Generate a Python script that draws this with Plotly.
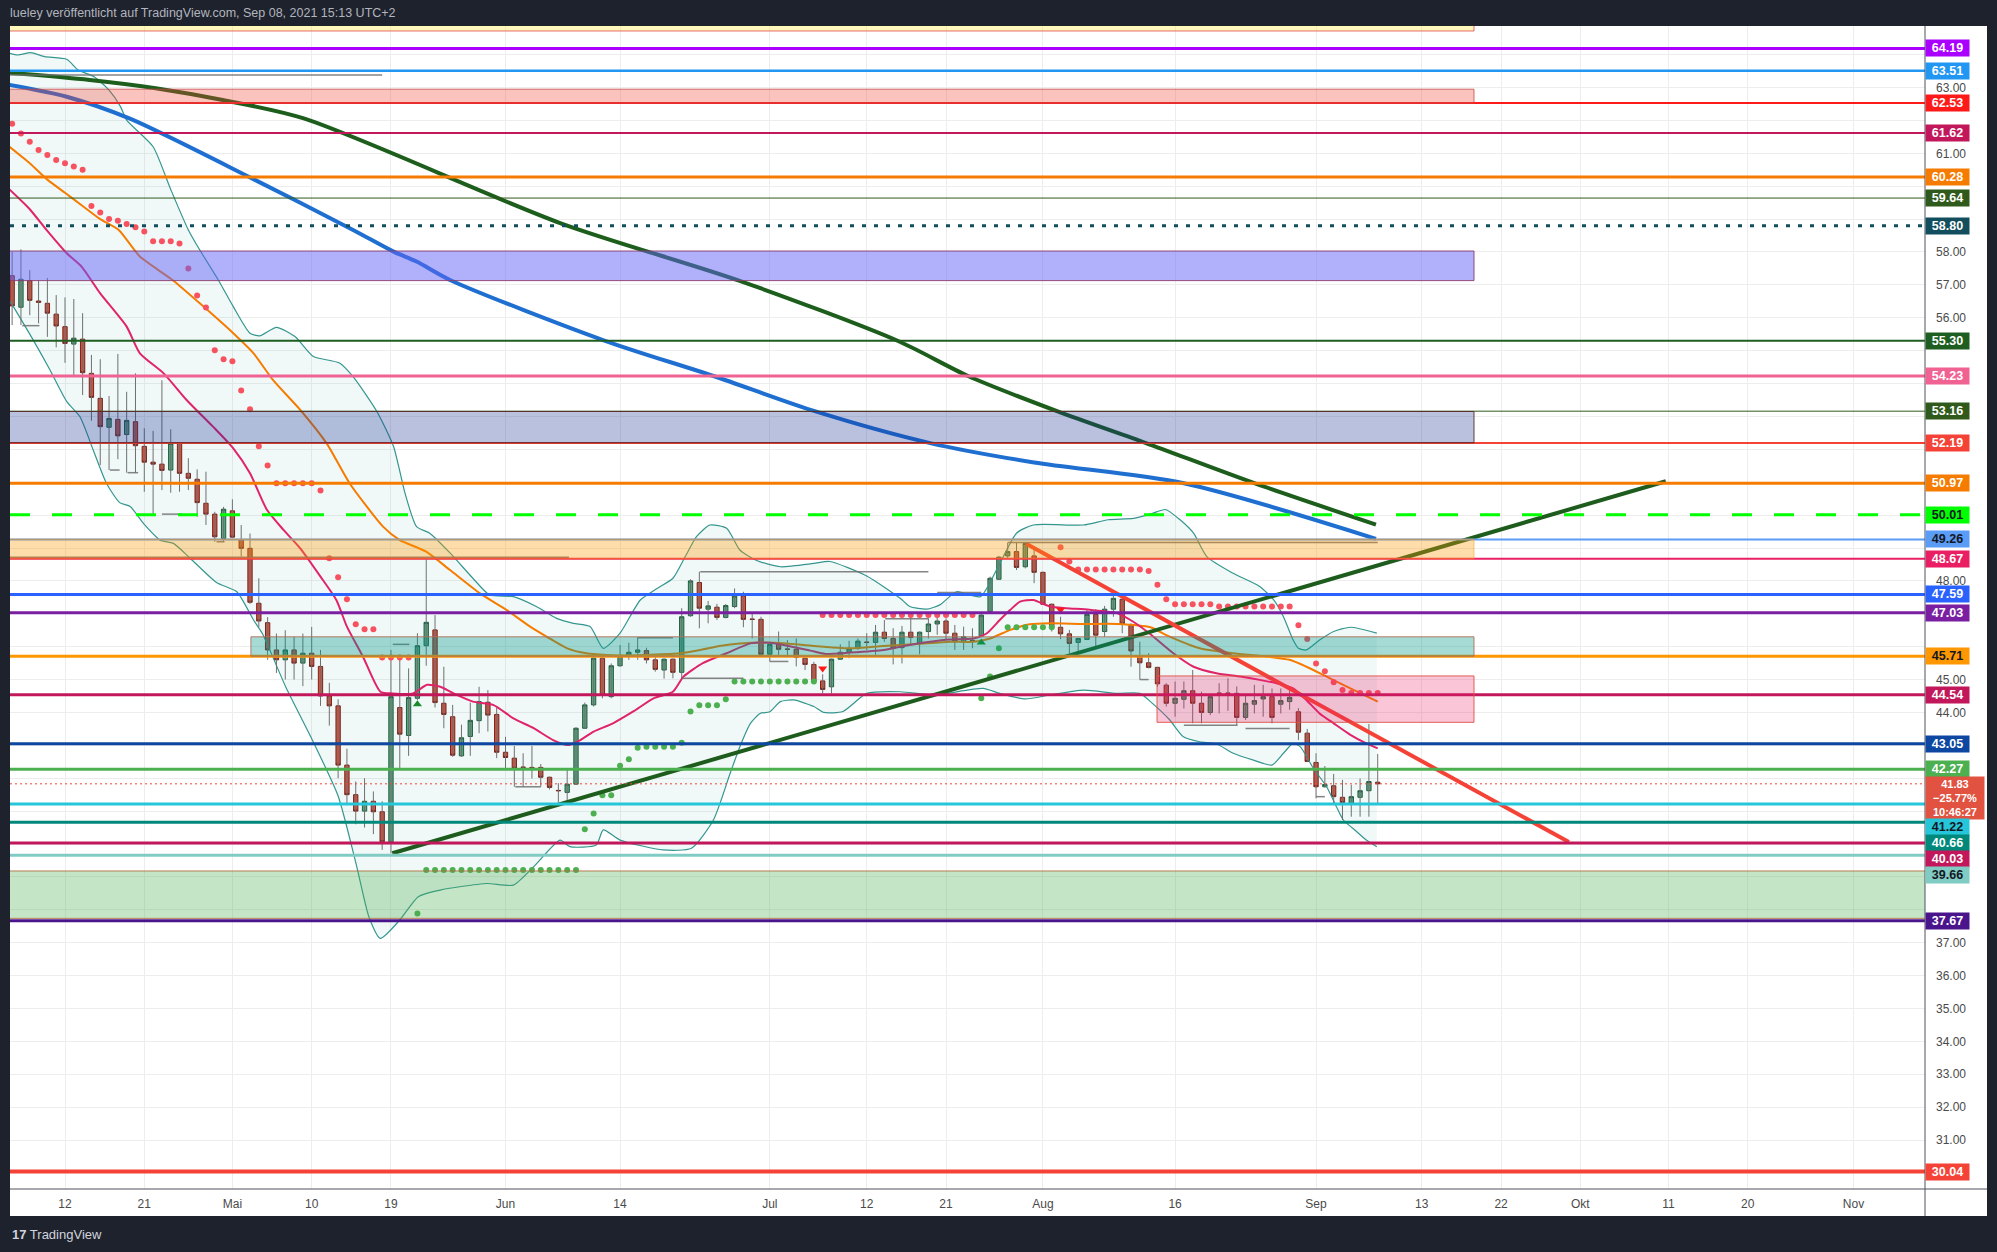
import pandas as pd
import plotly.graph_objects as go

# ---------------- data ----------------
BASE = pd.Timestamp("2021-04-12")          # day 0 of the day-offset arrays below
FIRST_CANDLE = "2021-04-06"

opens = [57.28,56.32,57.13,56.51,56.44,56.11,55.73,55.20,55.35,54.31,
         53.55,52.67,52.91,52.45,52.84,52.09,51.61,51.55,51.37,52.18,
         51.27,51.09,50.36,50.03,49.29,50.13,49.24,48.99,47.32,46.73,
         45.90,45.60,45.90,45.50,45.80,45.40,44.50,44.20,42.40,41.50,
         41.00,41.30,40.98,40.07,44.15,43.30,44.43,46.03,46.51,44.28,
         43.87,42.68,43.27,43.75,44.31,43.94,42.79,42.61,42.34,42.33,
         42.33,42.03,41.63,41.57,41.82,43.52,44.23,45.65,44.48,45.42,
         45.70,45.83,45.88,45.60,45.29,45.62,45.22,46.94,47.95,47.14,
         47.20,46.89,47.22,47.54,46.84,46.83,45.77,46.07,45.93,45.92,
         45.65,45.46,44.96,44.78,45.62,45.83,45.95,46.14,46.13,46.44,
         46.25,45.97,46.44,46.10,46.46,46.69,46.78,46.41,46.15,46.19,
         46.32,47.07,48.05,48.76,48.89,48.43,48.76,48.26,47.29,46.59,
         46.39,46.13,46.22,46.98,46.46,47.14,47.44,46.64,45.70,45.51,
         45.37,44.83,44.28,44.40,44.66,44.28,44.00,44.59,44.59,44.58,
         43.85,44.25,44.41,44.48,44.25,44.33,44.02,43.37,42.48,41.74,
         41.77,41.42,41.24,41.42,41.62,41.88]
highs = [58.01,58.08,57.45,57.13,57.21,56.69,56.62,56.57,56.14,54.87,
         54.74,53.62,54.90,53.75,54.31,52.64,52.56,54.10,52.61,52.20,
         51.73,51.39,51.32,50.10,50.25,50.48,49.70,49.44,48.08,46.90,
         46.40,46.50,46.30,46.40,46.60,45.90,44.90,44.40,42.90,41.90,
         42.00,41.60,41.30,45.90,45.65,45.34,46.41,48.66,46.96,45.39,
         44.23,43.63,44.30,44.78,44.68,44.15,43.26,42.98,42.76,42.98,
         42.43,42.05,41.85,42.25,43.55,44.30,45.70,45.75,45.49,46.05,
         46.12,46.28,45.97,45.70,45.64,45.64,47.17,48.05,48.28,47.39,
         47.30,47.30,47.77,47.67,47.00,46.91,46.09,46.46,46.20,46.25,
         45.67,45.54,45.16,45.64,46.07,46.18,46.25,46.41,46.66,46.81,
         46.56,46.63,46.86,46.46,46.86,46.99,46.86,46.66,46.61,46.56,
         47.01,48.13,48.76,49.16,49.16,49.16,49.02,48.28,47.31,46.91,
         46.51,46.27,47.12,47.14,47.24,47.62,47.54,46.71,46.15,45.80,
         45.39,44.89,44.94,44.94,45.29,44.63,44.50,44.89,45.04,44.79,
         44.53,44.84,44.84,44.73,44.73,44.79,44.13,43.50,42.76,42.37,
         42.13,41.95,41.80,41.99,43.65,42.74]
lows = [55.78,55.78,56.08,55.83,55.42,55.10,54.63,54.26,53.65,52.87,
        51.52,51.37,51.70,51.29,51.29,50.71,50.00,50.76,50.68,50.71,
        50.76,49.95,49.70,49.19,49.19,49.30,48.74,47.30,46.60,45.60,
        45.20,45.00,45.00,44.80,45.00,44.20,43.60,42.00,41.20,40.60,
        40.50,40.30,39.82,39.72,42.30,42.68,44.38,45.42,44.15,43.52,
        42.65,42.65,42.68,43.37,43.42,42.61,42.27,41.74,41.74,41.99,
        41.74,41.66,41.27,41.29,41.80,43.50,44.18,44.43,44.43,45.39,
        45.60,45.60,45.49,45.24,45.03,45.04,45.03,46.91,46.56,46.71,
        46.81,46.86,47.17,46.59,46.25,45.75,45.55,45.75,45.70,45.40,
        45.29,44.89,44.58,44.58,45.60,45.65,45.90,45.90,45.75,46.15,
        45.46,45.49,46.05,45.77,46.25,46.36,46.20,45.90,45.90,45.95,
        46.30,47.02,48.03,48.69,48.33,48.38,47.93,47.27,46.46,46.23,
        45.80,45.85,46.20,46.00,46.30,46.91,46.41,45.39,45.00,45.34,
        44.78,44.18,43.87,44.12,43.67,43.67,43.92,43.97,44.05,43.62,
        43.77,43.97,43.87,43.67,43.97,44.08,43.16,42.49,41.39,41.72,
        41.19,40.73,40.83,40.83,40.83,41.24]
closes = [56.36,57.17,56.53,56.47,56.14,55.75,55.22,55.38,54.33,53.58,
          52.69,52.94,52.41,52.88,52.11,51.61,51.55,51.36,52.18,51.27,
          51.12,50.38,50.03,49.34,50.18,49.33,48.99,47.35,46.78,45.90,
          45.60,45.90,45.50,45.80,45.40,44.50,44.20,42.40,41.50,41.00,
          41.30,40.98,40.07,44.48,43.34,44.45,46.03,46.74,44.30,43.94,
          42.70,43.23,43.76,44.33,43.92,42.79,42.63,42.30,42.33,42.32,
          42.03,41.72,41.62,41.82,43.52,44.23,45.65,44.53,45.42,45.70,
          45.83,45.90,45.60,45.31,45.62,45.22,46.91,48.00,47.17,47.24,
          46.89,47.25,47.54,46.83,46.83,45.77,46.07,45.92,45.92,45.67,
          45.46,44.94,44.70,45.62,45.83,45.95,46.17,46.13,46.44,46.25,
          45.95,46.44,46.28,46.44,46.69,46.78,46.41,46.15,46.30,46.18,
          46.96,48.08,48.72,48.89,48.41,49.14,48.26,47.29,46.59,46.39,
          46.10,46.25,46.98,46.35,47.14,47.47,46.69,45.87,45.51,45.37,
          44.87,44.28,44.43,44.66,44.28,44.00,44.48,44.58,44.58,43.85,
          44.28,44.36,44.48,43.85,44.36,44.46,43.40,42.51,41.74,41.81,
          41.44,41.26,41.44,41.62,41.90,41.83]

# indicator curves, x = day offset from BASE
bb_upper_days = [-6.3,-5.35,-3.9,-2.3,0.2,1.5,3.3,5.0,6.3,7.0,10.0,12.0,14.0,15.3,17.4,19.1,21.0,22.1,24.0,26.1,
                 28.2,30.1,31.2,32.7,35.4,37.3,38.6,39.9,41.4,43.7,46.3,48.2,50.9,53.5,55.8,57.7,59.6,61.1,63.0,65.3,
                 67.2,69.0,70.4,71.7,73.2,75.1,76.6,78.5,81.2,85.0,86.8,91.0,94.8,95.9,97.8,99.3,101.2,103.9,106.1,108.0,
                 109.9,115.6,118.4,121.3,123.4,124.9,126.6,128.1,129.6,132.6,135.6,137.2,138.3,139.4,140.0,140.9,142.4,144.0,145.9,148.9]
bb_upper_vals = [64.04,63.99,64.06,63.94,63.86,63.53,63.33,62.92,62.42,62.01,61.20,59.90,58.67,58.06,57.15,56.34,55.53,55.45,55.71,55.43,
                 54.82,54.70,54.62,54.21,53.15,52.08,50.66,49.65,49.45,48.85,48.08,47.57,47.52,47.22,46.86,46.71,46.61,45.95,46.41,47.42,
                 47.77,48.08,48.74,49.35,49.70,49.60,48.94,48.62,48.43,48.53,48.59,48.15,47.47,47.22,47.14,47.27,47.67,47.52,48.53,49.45,
                 49.70,49.70,49.86,49.90,50.05,50.17,49.85,49.45,48.74,48.23,47.83,47.42,46.91,46.20,45.95,45.90,46.20,46.46,46.59,46.41]
bb_lower_days = [-6.2,-3.6,-1.7,0.2,1.7,3.2,4.7,6.2,7.4,8.9,10.8,12.3,14.2,17.2,19.5,21.4,22.4,25.1,28.0,31.0,
                 33.1,34.5,35.8,38.0,40.1,42.6,44.8,47.9,50.9,53.2,56.2,57.3,60.3,61.1,63.0,67.9,71.1,73.6,75.5,76.6,
                 77.8,78.9,80.0,81.2,82.7,85.0,86.1,88.3,91.0,94.8,98.6,104.2,106.1,109.0,111.8,115.6,119.4,122.0,123.2,125.4,
                 126.9,128.8,130.7,132.6,134.9,137.0,138.3,139.4,140.2,141.7,143.2,144.3,145.1,146.6,147.7,148.9]
bb_lower_vals = [56.49,55.32,54.41,53.45,52.99,51.98,50.97,50.38,50.26,49.75,49.24,49.14,48.69,47.95,47.67,46.81,46.40,44.75,43.20,41.46,
                 39.33,37.78,37.13,37.69,38.40,38.60,38.70,38.80,38.75,39.31,40.12,39.92,39.97,40.43,40.12,39.82,39.87,40.73,42.15,42.96,
                 43.67,43.97,44.02,44.33,44.38,44.18,44.00,44.03,44.58,44.63,44.53,44.73,44.58,44.41,44.53,44.68,44.58,44.58,44.33,43.77,
                 43.27,43.11,43.04,42.76,42.55,42.40,42.76,43.06,42.96,42.30,41.74,41.14,40.73,40.38,40.12,39.92]
ema_fast_days = [-6.3,-4.0,-2.1,0.2,1.9,4.0,7.0,8.5,11.2,13.8,16.8,19.1,21.0,22.9,24.8,26.7,29.0,30.8,32.0,33.8,
                 35.8,37.2,39.5,41.1,42.6,44.1,46.3,48.6,50.9,53.2,55.4,57.1,58.5,60.0,62.2,64.5,66.8,69.0,70.2,72.4,
                 75.1,77.8,80.0,82.5,84.6,86.3,89.1,92.9,95.2,98.2,100.4,103.1,104.6,106.1,107.3,108.4,109.9,111.8,113.7,116.3,
                 119.4,121.3,123.1,125.8,128.1,130.7,133.4,135.6,137.5,139.4,140.9,142.4,144.0,145.9,147.7,149.0]
ema_fast_vals = [59.90,59.30,58.67,57.96,57.55,56.74,55.73,54.92,54.31,53.50,52.69,52.03,51.27,50.17,49.55,48.99,48.13,47.42,46.61,45.71,
                 44.63,44.58,44.58,44.84,44.78,44.58,44.33,44.23,43.82,43.52,43.16,43.01,43.16,43.42,43.67,44.03,44.43,44.63,45.09,45.50,
                 45.80,46.10,46.12,46.00,45.88,45.78,45.82,45.90,46.02,46.15,46.22,46.25,46.40,46.81,47.12,47.37,47.42,47.22,47.17,47.12,
                 47.02,46.75,46.40,45.80,45.39,45.19,45.09,44.99,44.89,44.73,44.38,43.97,43.67,43.32,43.06,42.91]
ema_mid_days = [-6.3,-4.0,-2.0,0.0,2.0,4.0,6.1,8.5,12.2,15.3,19.1,21.4,23.6,26.7,29.7,32.3,36.1,38.0,41.0,43.7,
                47.1,50.1,52.8,54.7,57.0,59.2,61.5,63.8,66.0,69.8,72.1,74.3,76.6,79.3,81.9,85.0,89.1,92.9,96.7,100.4,
                103.1,105.0,107.3,109.5,111.8,115.6,119.4,123.2,125.0,128.8,132.6,136.4,139.0,140.9,143.2,145.9,149.0]
ema_mid_vals = [61.20,60.70,60.20,59.80,59.40,59.00,58.67,57.86,57.15,56.44,55.53,54.92,54.11,53.20,52.18,50.97,49.65,49.24,48.89,48.33,
                47.62,47.12,46.61,46.30,45.95,45.80,45.75,45.73,45.75,45.80,45.90,46.02,46.10,46.13,46.10,46.02,45.95,46.02,46.08,46.15,
                46.15,46.25,46.51,46.68,46.71,46.69,46.69,46.59,46.35,45.95,45.80,45.70,45.60,45.39,45.09,44.73,44.33]
ma_blue_days = [-6.3,0.2,7.3,21.5,32.7,37.3,39.9,43.7,61.3,73.6,85.1,98.2,110.0,127.0,148.8]
ma_blue_vals = [63.08,62.72,62.06,60.20,58.67,58.01,57.71,57.15,55.30,54.23,53.16,52.19,51.60,50.97,49.28]
ma_green_days = [-6.3,2.8,10.3,17.9,27.1,56.2,76.5,94.5,102.5,112.6,122.7,135.0,148.8]
ma_green_vals = [63.45,63.23,62.98,62.62,62.06,58.88,57.13,55.30,54.23,53.16,52.19,50.97,49.71]

# parabolic SAR dots
sar_red_days = [-6,-5,-4,-3,-2,-1,0,1,2,3,4,5,6,7,8,9,10,11,12,13,14,15,16,17,18,19,20,21,22,23,24,25,26,27,28,29,
                30,31,32,33,34,35,36,37,38,39,
                86,87,88,89,90,91,92,93,94,95,96,97,98,99,100,101,102,103,
                113,114,115,116,117,118,119,120,121,122,123,124,125,126,127,128,129,130,131,132,133,134,135,136,137,138,139,
                140,141,142,143,144,145,146,147,148,149]
sar_red_vals = [61.90,61.60,61.35,61.10,60.95,60.80,60.70,60.60,60.50,59.40,59.20,59.00,58.95,58.85,58.75,58.62,58.33,58.33,58.33,58.26,
                57.50,56.68,56.31,55.01,54.74,54.68,53.79,53.22,52.09,51.51,50.97,50.97,50.97,50.97,50.97,50.75,
                48.69,48.11,47.44,46.68,46.53,46.53,45.67,45.67,45.67,45.67,
                46.96,46.96,46.96,46.96,46.96,46.96,46.96,46.96,46.96,46.96,46.96,46.96,46.96,46.96,46.96,46.96,46.96,46.96,
                49.02,48.59,48.35,48.35,48.35,48.35,48.35,48.35,48.35,48.35,48.30,47.88,47.44,47.29,47.29,47.29,47.29,47.29,
                47.22,47.22,47.22,47.22,47.22,47.22,47.22,47.22,47.22,
                46.65,46.23,45.49,45.25,44.92,44.68,44.59,44.59,44.59,44.59]
sar_green_days = [40,41,42,43,44,45,46,47,48,49,50,51,52,53,54,55,56,57,58,59,60,61,62,63,64,65,66,67,68,69,70,71,72,73,74,75,
                  76,77,78,79,80,81,82,83,84,85,104,105,106,107,108,109,110,111,112]
sar_green_vals = [37.89,39.21,39.21,39.21,39.21,39.21,39.21,39.21,39.21,39.21,39.21,39.21,39.21,39.21,39.21,39.21,39.21,39.21,39.21,
                  40.45,40.93,41.48,41.48,42.38,42.58,42.93,42.96,42.96,42.96,42.96,43.08,44.03,44.22,44.22,44.22,44.40,
                  44.94,44.94,44.94,44.94,44.94,44.94,44.94,44.94,44.94,44.94,44.43,45.09,45.95,46.59,46.59,46.59,46.59,46.59,46.59]
buy_sig_days = [40, 104]
buy_sig_vals = [44.25, 46.13]
sell_sig_days = [86, 113]
sell_sig_vals = [45.34, 47.12]

# drawn trend lines (start/end)
trend_up_days = [37.15, 181.7]
trend_up_vals = [39.72, 51.03]
trend_down_days = [109.1, 170.7]
trend_down_vals = [49.13, 40.06]

# horizontal price levels
level_prices = [64.19, 63.51, 62.53, 61.62, 60.28, 59.64, 58.80, 55.30, 54.23, 53.16, 52.19, 50.97, 50.01,
                49.26, 48.67, 47.59, 47.03, 45.71, 44.54, 43.05, 42.27, 41.22, 40.66, 40.03, 39.66, 37.67, 30.04]
level_colors = ["#aa00ff", "#2196f3", "#ff1a1a", "#c2185b", "#f57c00", "#2f5a1c", "#134e5e", "#1e5e20", "#f06292",
                "#2f5a1c", "#f44336", "#f57c00", "#00ff00", "#5b9cf6", "#e91e63", "#2962ff", "#7b1fa2", "#ff9800",
                "#c2185b", "#0d47a1", "#4caf50", "#26c6da", "#00897b", "#c2185b", "#80cbc4", "#4a148c", "#f44336"]
level_widths = [3, 2.5, 2, 2, 3, 1, 3, 2, 3, 1, 2, 3, 3, 2, 2, 3, 3, 3, 3, 3, 3, 3, 3, 3, 3, 3, 4]
level_dashes = ["solid"] * 6 + ["4px,8px"] + ["solid"] * 5 + ["20px,22px"] + ["solid"] * 14
level_text = ["#ffffff"] * 12 + ["#131722", "#131722"] + ["#ffffff"] * 3 + ["#131722"] + ["#ffffff"] * 3 + \
             ["#131722", "#ffffff", "#ffffff", "#131722", "#ffffff", "#ffffff"]
current_change = "\u221225.77%"
current_timer = "10:46:27"

# rectangles (zones): low, high, start day (None = from chart start), fill, border
zone_lows = [64.72, 62.53, 57.13, 52.20, 48.67, 45.71, 43.70, 37.74]
zone_highs = [65.50, 62.95, 58.03, 53.15, 49.27, 46.30, 45.11, 39.18]
zone_starts = [None, None, None, None, None, 21.1, 123.95, None]
zone_ends = [159.93, 159.93, 159.93, 159.93, 159.93, 159.93, 159.93, None]
zone_fills = ["rgba(255,235,59,0.35)", "rgba(244,67,54,0.32)", "rgba(98,100,245,0.50)", "rgba(24,50,150,0.30)",
              "rgba(255,152,0,0.33)", "rgba(0,150,136,0.35)", "rgba(233,30,99,0.26)", "rgba(76,175,80,0.32)"]
zone_borders = ["rgba(229,90,90,0.9)", "rgba(200,70,70,0.8)", "rgba(140,60,110,0.9)", "rgba(90,40,40,0.9)",
                "rgba(255,152,0,0.5)", "rgba(180,110,90,0.9)", "rgba(224,80,70,0.9)", "rgba(176,112,64,0.9)"]

# pivot marker lines: start day, end day, price
pivot_starts = [-6.3, -4.85, 5.1, 7.1, 11.0, 17.2, -6.3, 37.2, 51.1, 65.0, 70.1, 80.0, 72.1, 99.0, 93.1, 122.0, 107.0, 127.0, 134.0, 142.0]
pivot_ends = [36.0, -2.9, 6.2, 8.3, 13.3, 18.1, 57.2, 39.1, 54.0, 69.0, 77.0, 82.1, 98.0, 104.0, 98.0, 123.0, 149.0, 133.1, 139.0, 143.0]
pivot_prices = [63.38, 55.76, 51.37, 51.29, 50.03, 49.19, 48.72, 46.07, 41.74, 46.27, 45.04, 45.55, 48.28, 47.65, 46.85, 45.00, 49.17, 43.61, 43.51, 41.44]

tick_dates = ["2021-04-12", "2021-04-21", "2021-05-01", "2021-05-10", "2021-05-19", "2021-06-01", "2021-06-14",
              "2021-07-01", "2021-07-12", "2021-07-21", "2021-08-01", "2021-08-16", "2021-09-01", "2021-09-13",
              "2021-09-22", "2021-10-01", "2021-10-11", "2021-10-20", "2021-11-01"]
tick_text = ["12", "21", "Mai", "10", "19", "Jun", "14", "Jul", "12", "21", "Aug", "16", "Sep", "13", "22", "Okt",
             "11", "20", "Nov"]
price_ticks = [30, 31, 32, 33, 34, 35, 36, 37, 38, 39, 40, 41, 42, 43, 44, 45, 46, 47, 48, 49, 50, 51, 52, 53, 54,
               55, 56, 57, 58, 59, 60, 61, 62, 63, 64]

# ---------------- layout constants ----------------
W, H = 1997, 1252
ML, MR, MT, MB = 10, 72, 26, 63
PLOT_W, PLOT_H = W - ML - MR, H - MT - MB
Y_MIN, Y_MAX = 29.511, 64.871
X_MIN_DAY, X_MAX_DAY = -6.243, 211.12
AX_RIGHT = (1987 - ML) / PLOT_W
AX_BOTTOM = -(1216 - (H - MB)) / PLOT_H
FONT = "Liberation Sans Narrow, Liberation Sans, Arial, sans-serif"


def to_dates(days):
    return [BASE + pd.Timedelta(days=float(v)) for v in days]


dates = pd.date_range(FIRST_CANDLE, periods=len(opens), freq="D")

fig = go.Figure()

BB_COLOR = "#35968f"
fig.add_trace(go.Scatter(x=to_dates(bb_upper_days), y=bb_upper_vals, mode="lines",
                         line=dict(color=BB_COLOR, width=1.2, shape="spline", smoothing=0.6), hoverinfo="skip"))
fig.add_trace(go.Scatter(x=to_dates(bb_lower_days), y=bb_lower_vals, mode="lines",
                         line=dict(color=BB_COLOR, width=1.2, shape="spline", smoothing=0.6),
                         fill="tonexty", fillcolor="rgba(0,150,136,0.055)", hoverinfo="skip"))

# wicks
wx, wy = [], []
for t, h, l in zip(dates, highs, lows):
    wx += [t, t, None]
    wy += [h, l, None]
fig.add_trace(go.Scatter(x=wx, y=wy, mode="lines", line=dict(color="#6f6f6f", width=1), hoverinfo="skip"))

# bodies
fig.add_trace(go.Candlestick(
    x=dates, open=opens, close=closes,
    high=[max(o, c) for o, c in zip(opens, closes)],
    low=[min(o, c) for o, c in zip(opens, closes)],
    increasing=dict(fillcolor="#63a07e", line=dict(color="#1f5d3c", width=1)),
    decreasing=dict(fillcolor="#d7513f", line=dict(color="#7d1f17", width=1)),
    whiskerwidth=0, hoverinfo="skip"))

# moving averages
fig.add_trace(go.Scatter(x=to_dates(ma_blue_days), y=ma_blue_vals, mode="lines",
                         line=dict(color="#1f6fd1", width=4, shape="spline", smoothing=0.8), hoverinfo="skip"))
fig.add_trace(go.Scatter(x=to_dates(ma_green_days), y=ma_green_vals, mode="lines",
                         line=dict(color="#1d5e1d", width=4, shape="spline", smoothing=0.8), hoverinfo="skip"))
fig.add_trace(go.Scatter(x=to_dates(ema_mid_days), y=ema_mid_vals, mode="lines",
                         line=dict(color="#f57c00", width=2, shape="spline", smoothing=0.6), hoverinfo="skip"))
fig.add_trace(go.Scatter(x=to_dates(ema_fast_days), y=ema_fast_vals, mode="lines",
                         line=dict(color="#e0246b", width=2, shape="spline", smoothing=0.6), hoverinfo="skip"))

# SAR
fig.add_trace(go.Scatter(x=to_dates(sar_red_days), y=sar_red_vals, mode="markers",
                         marker=dict(color="#f7525f", size=6), hoverinfo="skip"))
fig.add_trace(go.Scatter(x=to_dates(sar_green_days), y=sar_green_vals, mode="markers",
                         marker=dict(color="#4caf50", size=6), hoverinfo="skip"))
fig.add_trace(go.Scatter(x=to_dates(buy_sig_days), y=buy_sig_vals, mode="markers",
                         marker=dict(color="#1b8a2a", size=8, symbol="triangle-up"), hoverinfo="skip"))
fig.add_trace(go.Scatter(x=to_dates(sell_sig_days), y=sell_sig_vals, mode="markers",
                         marker=dict(color="#ff1a1a", size=8, symbol="triangle-down"), hoverinfo="skip"))

# trend lines
fig.add_trace(go.Scatter(x=to_dates(trend_up_days), y=trend_up_vals, mode="lines",
                         line=dict(color="#1e5c1e", width=4), hoverinfo="skip"))
fig.add_trace(go.Scatter(x=to_dates(trend_down_days), y=trend_down_vals, mode="lines",
                         line=dict(color="#f44336", width=4), hoverinfo="skip"))

shapes = []
# white chart widget background incl. axis areas
shapes.append(dict(type="rect", xref="paper", yref="paper", x0=0, x1=AX_RIGHT, y0=AX_BOTTOM, y1=1,
                   fillcolor="#ffffff", line=dict(width=0), layer="below"))

# pivot lines
for s, e, p in zip(pivot_starts, pivot_ends, pivot_prices):
    d0, d1 = to_dates([s, e])
    shapes.append(dict(type="line", xref="x", yref="y", x0=d0, x1=d1, y0=p, y1=p,
                       line=dict(color="rgba(110,110,110,0.85)", width=1.5), layer="above"))

# horizontal levels
for p, c, w, dsh in zip(level_prices, level_colors, level_widths, level_dashes):
    shapes.append(dict(type="line", xref="paper", yref="y", x0=0, x1=1, y0=p, y1=p,
                       line=dict(color=c, width=w, dash=dsh), layer="above"))
# current price line
shapes.append(dict(type="line", xref="paper", yref="y", x0=0, x1=1, y0=closes[-1], y1=closes[-1],
                   line=dict(color="#f44336", width=1, dash="2px,3px"), layer="above"))

# zones
far_left = BASE - pd.Timedelta(days=60)
far_right = BASE + pd.Timedelta(days=400)
for lo, hi, s, e, f, b in zip(zone_lows, zone_highs, zone_starts, zone_ends, zone_fills, zone_borders):
    x0 = far_left if s is None else to_dates([s])[0]
    x1 = far_right if e is None else to_dates([e])[0]
    shapes.append(dict(type="rect", xref="x", yref="y", x0=x0, x1=x1, y0=lo, y1=hi,
                       fillcolor=f, line=dict(color=b, width=1), layer="above"))

# axis frame lines
shapes.append(dict(type="line", xref="paper", yref="paper", x0=1, x1=1, y0=AX_BOTTOM, y1=1,
                   line=dict(color="#50535e", width=1), layer="above"))
shapes.append(dict(type="line", xref="paper", yref="paper", x0=0, x1=AX_RIGHT, y0=0, y1=0,
                   line=dict(color="#50535e", width=1), layer="above"))

# price badges with simple collision handling (like the trading platform)
px_per_unit = PLOT_H / (Y_MAX - Y_MIN)
badges = []
for p, c, tc in zip(level_prices, level_colors, level_text):
    badges.append(dict(price=p, bg=c, fg=tc, h=16, off=8, text="<b>%.2f</b>" % p, w=39, fs=12.5))
badges.append(dict(price=closes[-1], bg="#e15241", fg="#ffffff", h=42, off=8,
                   text="<b>%.2f</b><br><b>%s</b><br><b>%s</b>" % (closes[-1], current_change, current_timer),
                   w=54, fs=11))
badges.sort(key=lambda b: -b["price"])
prev_bottom = -1e9
annotations = []
occupied = []
for b in badges:
    ypx = (Y_MAX - b["price"]) * px_per_unit
    top = max(ypx - b["off"], prev_bottom)
    prev_bottom = top + b["h"]
    occupied.append((top, top + b["h"]))
    yc = Y_MAX - (top + b["h"] / 2) / px_per_unit
    annotations.append(dict(xref="paper", yref="y", x=1, y=yc, xanchor="left", yanchor="middle",
                            text=b["text"], showarrow=False, bgcolor=b["bg"], borderpad=2,
                            width=b["w"], height=b["h"] - 4,
                            font=dict(color=b["fg"], size=b["fs"], family="Liberation Sans, Arial, sans-serif"),
                            align="center"))

# axis tick labels hidden under the badges are skipped (as the platform does)
shown_ticks = []
for t in price_ticks:
    tpx = (Y_MAX - t) * px_per_unit
    if all(not (a - 5 < tpx < b + 5) for a, b in occupied) and 8 < tpx < PLOT_H - 6:
        shown_ticks.append(t)

annotations.append(dict(xref="paper", yref="paper", x=-0.001, y=1 + 13 / PLOT_H, xanchor="left",
                        yanchor="middle", showarrow=False,
                        text="lueley ver\u00f6ffentlicht auf TradingView.com, Sep 08, 2021 15:13 UTC+2",
                        font=dict(color="#b2b5be", size=12.5, family=FONT)))
annotations.append(dict(xref="paper", yref="paper", x=0, y=-(1234 - (H - MB)) / PLOT_H, xanchor="left",
                        yanchor="middle", showarrow=False,
                        text="<b>17</b> TradingView",
                        font=dict(color="#d1d4dc", size=13, family=FONT)))

x_range = to_dates([X_MIN_DAY, X_MAX_DAY])
fig.update_layout(
    width=W, height=H, margin=dict(l=ML, r=MR, t=MT, b=MB),
    paper_bgcolor="#1e222d", plot_bgcolor="#ffffff", showlegend=False, hovermode=False,
    shapes=shapes, annotations=annotations,
    xaxis=dict(type="date", range=x_range, tickvals=tick_dates, ticktext=tick_text,
               showgrid=True, gridcolor="#ededed", gridwidth=1, ticks="", zeroline=False,
               showline=False, rangeslider=dict(visible=False),
               tickfont=dict(size=12, color="#4a4a4a", family=FONT), ticklabelstandoff=6),
    yaxis=dict(side="right", range=[Y_MIN, Y_MAX], tickvals=price_ticks,
               ticktext=["%.2f" % t if t in shown_ticks else "" for t in price_ticks],
               showgrid=True, gridcolor="#ededed", gridwidth=1, ticks="", zeroline=False,
               showline=False, tickfont=dict(size=12, color="#4a4a4a", family=FONT),
               ticklabelstandoff=10),
)

fig.write_html("out.html", config={"displayModeBar": False},
               post_script="document.body.style.margin='0';document.body.style.background='#1e222d';")
